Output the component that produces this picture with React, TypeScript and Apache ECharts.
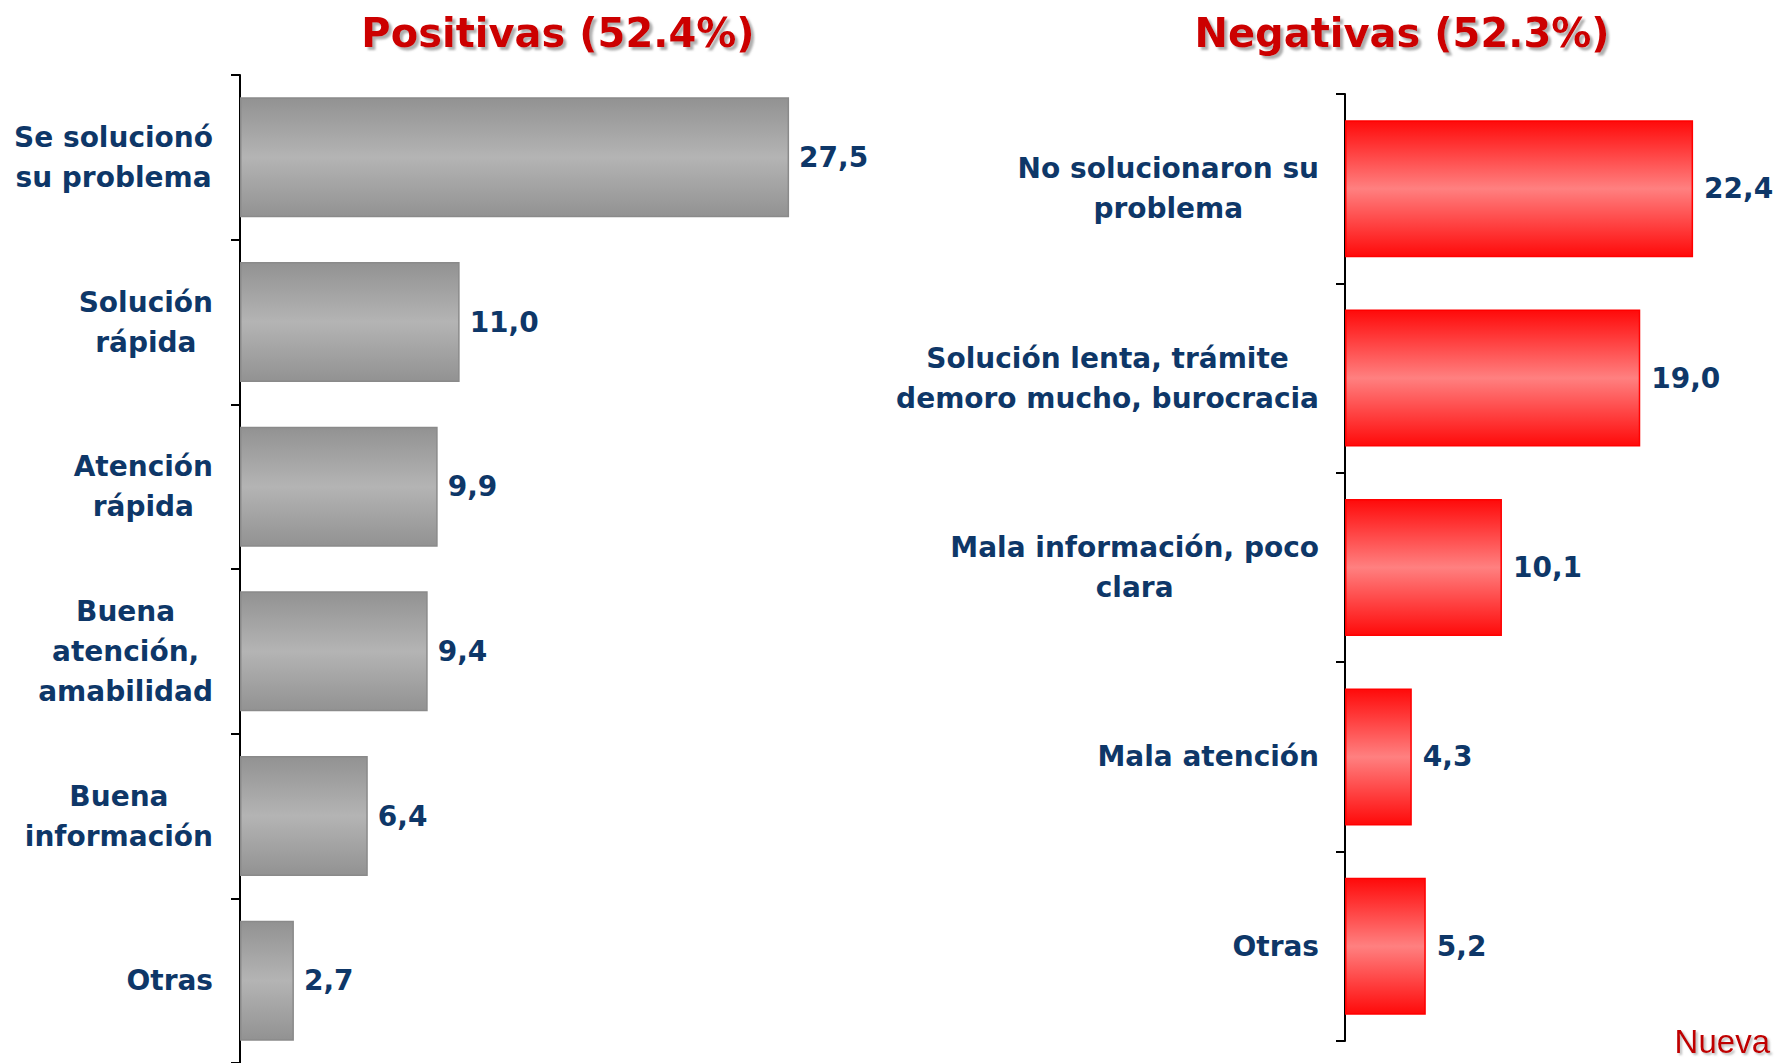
import React, { useEffect, useRef } from "react";
import * as echarts from "echarts";

const leftCategories = [
  "Se solucionó\nsu problema",
  "Solución\nrápida",
  "Atención\nrápida",
  "Buena\natención,\namabilidad",
  "Buena\ninformación",
  "Otras",
];
const leftValues = [27.5, 11.0, 9.9, 9.4, 6.4, 2.7];

const rightCategories = [
  "No solucionaron su\nproblema",
  "Solución lenta, trámite\ndemoro mucho, burocracia",
  "Mala información, poco\nclara",
  "Mala atención",
  "Otras",
];
const rightValues = [22.4, 19.0, 10.1, 4.3, 5.2];

const leftTitle = "Positivas (52.4%)";
const rightTitle = "Negativas (52.3%)";
const footnote = "Nueva";

const FONT = "'DejaVu Sans', Verdana, sans-serif";
const NAVY = "#0E3768";
const TITLE_RED = "#CC0000";

const labelStyle = {
  fontFamily: FONT,
  fontWeight: "bold" as const,
  fontSize: 28,
  color: NAVY,
  lineHeight: 40,
  align: "center" as const,
};

function catFormatter(v: string) {
  return v
    .split("\n")
    .map((l) => `{c|${l}}`)
    .join("\n");
}

const fmt = (v: number) => v.toFixed(1).replace(".", ",");

export default function App() {
  const ref = useRef<HTMLDivElement>(null);
  useEffect(() => {
    if (!ref.current) return;
    const chart = echarts.init(ref.current, null, { renderer: "svg" });
    const grayGrad = new echarts.graphic.LinearGradient(0, 0, 0, 1, [
      { offset: 0, color: "#929292" },
      { offset: 0.5, color: "#B4B4B4" },
      { offset: 1, color: "#929292" },
    ]);
    const redGrad = new echarts.graphic.LinearGradient(0, 0, 0, 1, [
      { offset: 0, color: "#FF0A0A" },
      { offset: 0.5, color: "#FF8080" },
      { offset: 1, color: "#FF0A0A" },
    ]);
    const titleText = {
      fontFamily: FONT,
      fontWeight: "bold" as const,
      fontSize: 40,
      color: TITLE_RED,
      textShadowColor: "rgba(120,120,120,0.6)",
      textShadowBlur: 2,
      textShadowOffsetX: 3,
      textShadowOffsetY: 3,
    };
    const axisCommon = {
      type: "category" as const,
      inverse: true,
      axisLine: { show: true, lineStyle: { color: "#000", width: 2 } },
      axisTick: { show: true, length: 9, lineStyle: { color: "#000", width: 2 } },
      axisLabel: {
        margin: 27,
        formatter: catFormatter,
        rich: { c: labelStyle },
      },
    };
    const valueLabel = {
      show: true,
      position: "right" as const,
      distance: 10,
      formatter: (p: any) => fmt(p.value),
      fontFamily: FONT,
      fontWeight: "bold" as const,
      fontSize: 28,
      color: NAVY,
    };
    chart.setOption({
      animation: false,
      title: [
        { text: leftTitle, left: 553, top: 8, textAlign: "center", textStyle: titleText },
        { text: rightTitle, left: 1397, top: 8, textAlign: "center", textStyle: titleText },
      ],
      grid: [
        { left: 240, top: 75, width: 599, height: 990 },
        { left: 1345, top: 94, width: 388.5, height: 947 },
      ],
      xAxis: [
        { type: "value", gridIndex: 0, min: 0, max: 30, show: false },
        { type: "value", gridIndex: 1, min: 0, max: 25, show: false },
      ],
      yAxis: [
        { ...axisCommon, gridIndex: 0, data: leftCategories },
        { ...axisCommon, gridIndex: 1, data: rightCategories, axisLabel: { ...axisCommon.axisLabel, margin: 26 } },
      ],
      series: [
        {
          type: "bar",
          xAxisIndex: 0,
          yAxisIndex: 0,
          data: leftValues,
          barWidth: 120,
          itemStyle: { color: grayGrad, borderColor: "#8A8A8A", borderWidth: 1.5 },
          label: valueLabel,
        },
        {
          type: "bar",
          xAxisIndex: 1,
          yAxisIndex: 1,
          data: rightValues,
          barWidth: 137,
          itemStyle: { color: redGrad, borderColor: "#FF0000", borderWidth: 1.5 },
          label: { ...valueLabel, distance: 11 },
        },
      ],
      graphic: [
        {
          type: "text",
          x: 1770,
          y: 1041,
          style: {
            text: footnote,
            font: `33px 'Liberation Sans', Arial, sans-serif`,
            fill: "#C00000",
            align: "right",
            verticalAlign: "middle",
            textShadowColor: "rgba(120,120,120,0.5)",
            textShadowOffsetX: 2,
            textShadowOffsetY: 2,
            textShadowBlur: 2,
          },
        },
      ],
    });
    return () => chart.dispose();
  }, []);
  return (
    <div
      ref={ref}
      style={{ position: "fixed", left: 0, top: 0, width: 1778, height: 1063, background: "#fff" }}
    />
  );
}
